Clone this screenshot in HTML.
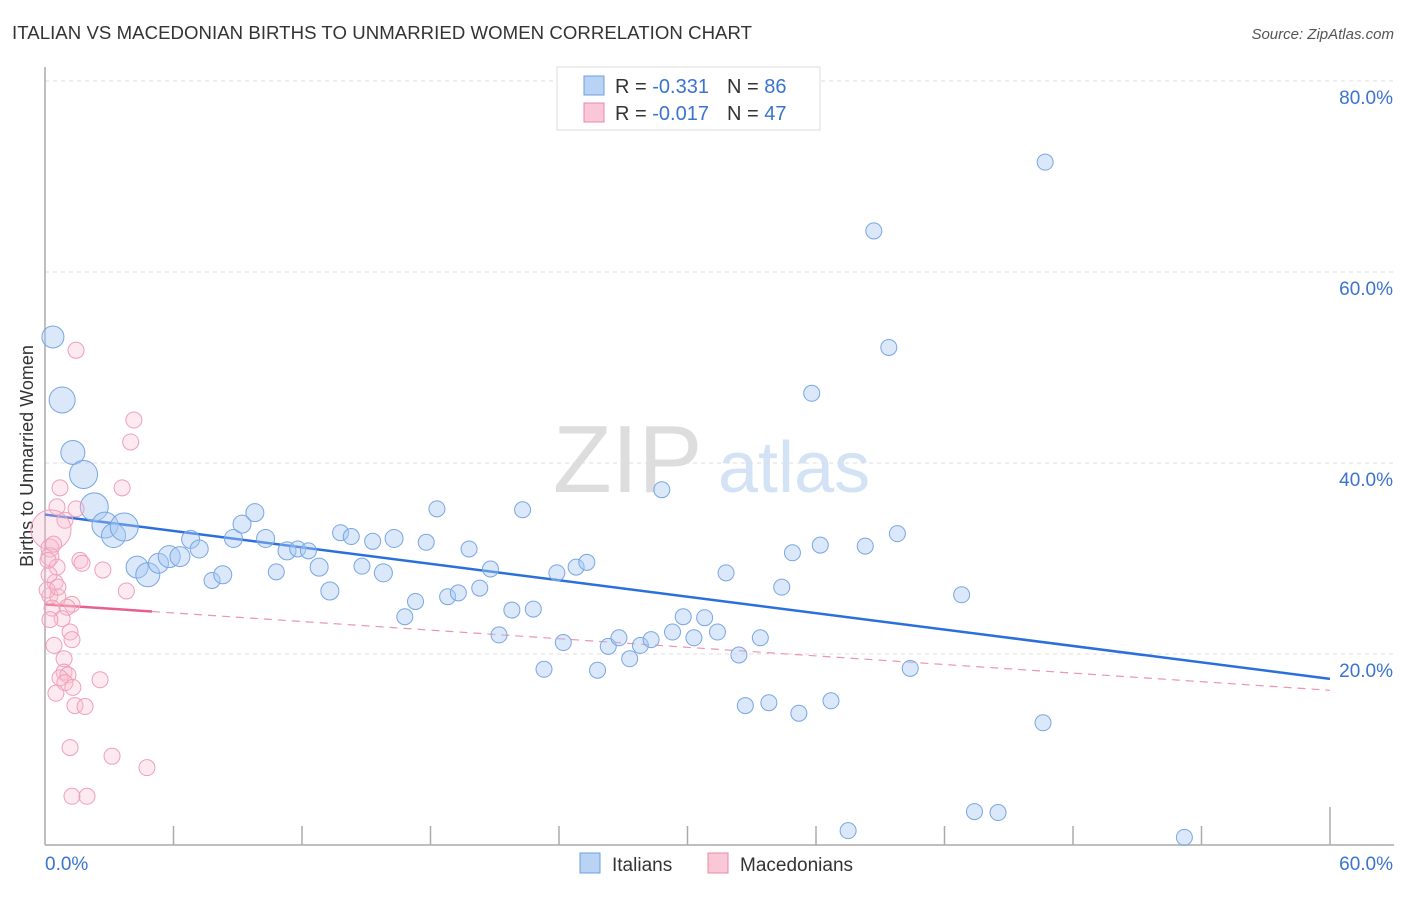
<!DOCTYPE html>
<html><head><meta charset="utf-8"><style>
body{margin:0;background:#fff;font-family:"Liberation Sans",sans-serif;}
svg text{font-family:"Liberation Sans",sans-serif;}
</style></head><body>
<svg id="chart" width="1406" height="892" viewBox="0 0 1406 892">
<text x="12" y="39" font-size="18.6" fill="#333" textLength="740">ITALIAN VS MACEDONIAN BIRTHS TO UNMARRIED WOMEN CORRELATION CHART</text>
<text x="1394" y="39" font-size="15" fill="#555" font-style="italic" text-anchor="end">Source: ZipAtlas.com</text>
<text transform="translate(33,456) rotate(-90)" font-size="18" fill="#333" text-anchor="middle">Births to Unmarried Women</text>
<g>
<text x="553" y="492" font-size="96" fill="#ddd" font-family="Liberation Serif,serif">ZIP</text>
<text x="718" y="492" font-size="72" fill="#d3e2f5">atlas</text>
</g>
<g id="grid"></g><g id="axes"></g><g id="trend"></g><g id="pts"></g>
<g>
<rect x="557" y="67" width="263" height="63" fill="#fff" stroke="#ddd"/>
<rect x="584" y="76" width="20" height="19" fill="#b9d3f5" stroke="#6d9fe0"/>
<rect x="584" y="103" width="20" height="19" fill="#f9c7d6" stroke="#ea8aa9"/>
<text x="615" y="93" font-size="20" fill="#333">R = <tspan fill="#3b73d1"> -0.331</tspan><tspan dx="18">N = </tspan><tspan fill="#3b73d1">86</tspan></text>
<text x="615" y="120" font-size="20" fill="#333">R = <tspan fill="#3b73d1"> -0.017</tspan><tspan dx="18">N = </tspan><tspan fill="#3b73d1">47</tspan></text>
</g>
<g>
<rect x="580" y="853" width="20" height="20" fill="#b9d3f5" stroke="#6d9fe0"/>
<text x="612" y="871" font-size="19" fill="#333">Italians</text>
<rect x="708" y="853" width="20" height="20" fill="#f9c7d6" stroke="#ea8aa9"/>
<text x="740" y="871" font-size="19" fill="#333">Macedonians</text>
</g>
</svg>
<script>
const xTicks=[0,6,12,18,24,30,36,42,48,54,60];
const yTicks=[20,40,60,80];
const blueX=[0.37,0.8,1.3,1.8,2.3,2.8,3.2,3.7,4.3,4.8,5.3,5.8,6.3,6.8,7.2,7.8,8.3,8.8,9.2,9.8,10.3,10.8,11.3,11.8,12.3,12.8,13.3,13.8,14.3,14.8,15.3,15.8,16.3,16.8,17.3,17.8,18.3,18.8,19.3,19.8,20.3,20.8,21.2,21.8,22.3,22.8,23.3,23.9,24.2,24.8,25.3,25.8,26.3,26.8,27.3,27.8,28.3,28.8,29.3,29.8,30.3,30.8,31.4,31.8,32.4,32.7,33.4,33.8,34.4,34.9,35.2,35.8,36.2,36.7,37.5,38.3,38.7,39.4,39.8,40.4,42.8,43.4,44.5,46.6,46.7,53.2];
const blueY=[53.2,46.6,41.1,38.8,35.4,33.5,32.4,33.3,29.1,28.3,29.5,30.2,30.2,32.0,31.0,27.7,28.3,32.1,33.6,34.8,32.1,28.6,30.8,31.0,30.8,29.1,26.6,32.7,32.3,29.2,31.8,28.5,32.1,23.9,25.5,31.7,35.2,26.0,26.4,31.0,26.9,28.9,22.0,24.6,35.1,24.7,18.4,28.5,21.2,29.1,29.6,18.3,20.8,21.7,19.5,20.9,21.5,37.2,22.3,23.9,21.7,23.8,22.3,28.5,19.9,14.6,21.7,14.9,27.0,30.6,13.8,47.3,31.4,15.1,1.5,31.3,64.3,52.1,32.6,18.5,26.2,3.5,3.4,12.8,71.5,0.8];
const blueW=[3,5,4,6,6,5,4,6,3,4,2,3,2,1,1,0,1,1,1,1,1,0,1,0,0,1,1,0,0,0,0,1,1,0,0,0,0,0,0,0,0,0,0,0,0,0,0,0,0,0,0,0,0,0,0,0,0,0,0,0,0,0,0,0,0,0,0,0,0,0,0,0,0,0,0,0,0,0,0,0,0,0,0,0,0,0];
const pinkX=[1.45,4.15,4.0,0.7,3.6,0.56,1.45,0.93,0.28,0.23,0.23,1.63,1.73,0.56,2.7,0.47,3.8,0.23,0.6,1.26,1.03,0.33,0.8,1.17,1.26,0.42,0.89,0.89,1.07,0.7,0.93,1.3,2.57,0.51,1.4,1.87,1.17,3.13,4.76,1.26,1.96,0.14,0.19,0.1,0.23,0.4,0.6];
const pinkY=[51.8,44.5,42.2,37.4,37.4,35.4,35.2,34.0,33.0,31.1,30.2,29.8,29.5,29.1,28.8,27.5,26.6,26.1,26.0,25.2,24.9,24.8,23.7,22.3,21.5,20.9,19.5,18.1,17.8,17.5,17.0,16.5,17.3,15.9,14.6,14.5,10.2,9.3,8.1,5.1,5.1,29.8,28.3,26.7,23.6,31.5,27.0];
const pinkW=[0,0,0,0,0,0,0,0,12,1,1,0,0,0,0,0,0,0,0,0,0,0,0,0,0,0,0,0,0,0,0,0,0,0,0,0,0,0,0,0,0,0,0,0,0,0,0];
const blueTrend=[34.6,17.4];
const pinkTrend=[25.2,16.2];
const pinkSolidEnd=5;
const X0=45,X1=1330,Y0=845,Y80=81;
const sx=v=>X0+(v/60)*(X1-X0);
const sy=v=>Y0-(v/80)*(Y0-Y80);
const NS='http://www.w3.org/2000/svg';
function mk(parent,tag,attrs){const e=document.createElementNS(NS,tag);for(const k in attrs)e.setAttribute(k,attrs[k]);document.getElementById(parent).appendChild(e);return e;}
yTicks.forEach(t=>{
 const g=mk('grid','line',{x1:X0,x2:1394,y1:sy(t),y2:sy(t),stroke:'#ddd','stroke-dasharray':'4,4'});
 
 
 const l=mk('grid','text',{x:1393,y:sy(t)+23,'font-size':19,fill:'#3b73d1','text-anchor':'end'});
 l.textContent=t.toFixed(1)+'%';
 
 
});
const ya=mk('axes','line',{x1:X0,x2:X0,y1:67,y2:Y0,stroke:'#aaa','stroke-width':1.5});


const xa=mk('axes','line',{x1:X0,x2:1394,y1:Y0,y2:Y0,stroke:'#aaa','stroke-width':1.5});


xTicks.forEach((t,i)=>{
 if(i===0)return;
 const tk=mk('axes','line',{x1:sx(t),x2:sx(t),y1:i===xTicks.length-1?807:826,y2:Y0,stroke:'#aaa','stroke-width':1.5});
 
 
});
[[0,'start',45],[60,'end',1393]].forEach(([v,a,x])=>{
 const l=mk('axes','text',{x:x,y:870,'font-size':19,fill:'#3b73d1','text-anchor':a});
 l.textContent=v.toFixed(1)+'%';
 
 
});
blueX.forEach((v,i)=>{
 const c=mk('pts','circle',{cx:sx(v),cy:sy(blueY[i]),r:8+(blueW[i]||0),fill:'rgba(168,200,242,0.42)',stroke:'#79a6e2','stroke-width':1});
 
 
});
pinkX.forEach((v,i)=>{
 const c=mk('pts','circle',{cx:sx(v),cy:sy(pinkY[i]),r:8+(pinkW[i]||0),fill:'rgba(248,190,208,0.32)',stroke:'#ef9fb8','stroke-width':1});
 
 
});
const bt=mk('trend','line',{x1:sx(0),y1:sy(blueTrend[0]),x2:sx(60),y2:sy(blueTrend[1]),stroke:'#2a6fdb','stroke-width':2.5});


const pAt=x=>pinkTrend[0]+(pinkTrend[1]-pinkTrend[0])*x/60;
const pd=mk('trend','line',{x1:sx(pinkSolidEnd),y1:sy(pAt(pinkSolidEnd)),x2:sx(60),y2:sy(pinkTrend[1]),stroke:'#ec94b0','stroke-width':1.2,'stroke-dasharray':'8,6'});


const ps=mk('trend','line',{x1:sx(0),y1:sy(pinkTrend[0]),x2:sx(pinkSolidEnd),y2:sy(pAt(pinkSolidEnd)),stroke:'#e8608a','stroke-width':2.5});


</script>
</body></html>
